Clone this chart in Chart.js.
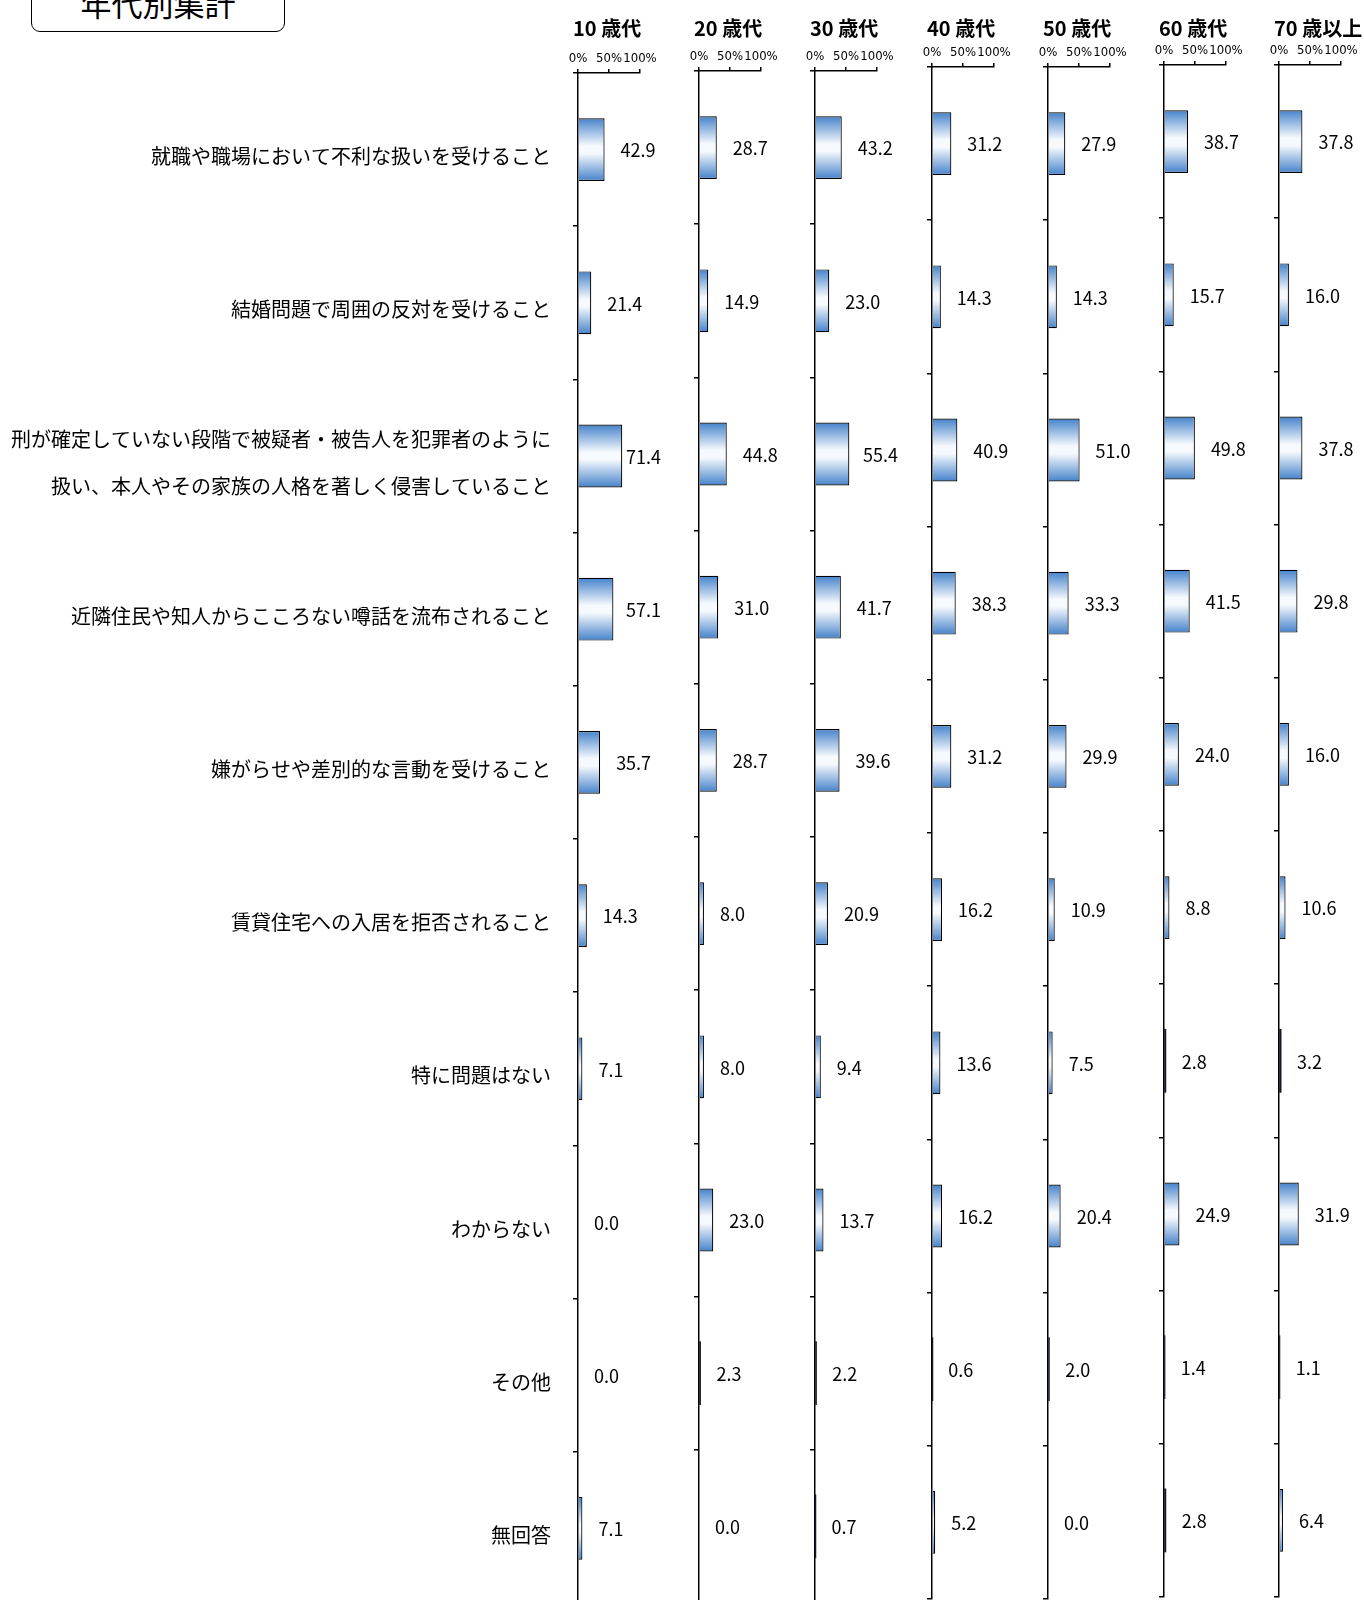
<!DOCTYPE html>
<html lang="ja">
<head>
<meta charset="utf-8">
<script src="https://cdn.jsdelivr.net/npm/chart.js@4/dist/chart.umd.min.js"></script>
<style>
html, body { margin:0; padding:0; overflow:hidden; background:#fff; width:1364px; height:1600px; }
.panel { position:absolute; }
#hdr { position:absolute; left:31px; top:-30px; width:254px; height:62px; box-sizing:border-box;
       border:1.5px solid #000; border-radius:9px; }
#hdr span { position:absolute; left:0; right:0; top:16px; text-align:center;
            font:31px/31px "Noto Sans CJK JP", sans-serif; color:#000; }
</style>
</head>
<body>
<div id="hdr"><span>年代別集計</span></div>
<div id="wrap"></div>
<script>
// ---- data ----
const categories = [
  '就職や職場において不利な扱いを受けること',
  '結婚問題で周囲の反対を受けること',
  ['刑が確定していない段階で被疑者・被告人を犯罪者のように', '扱い、本人やその家族の人格を著しく侵害していること'],
  '近隣住民や知人からこころない噂話を流布されること',
  '嫌がらせや差別的な言動を受けること',
  '賃貸住宅への入居を拒否されること',
  '特に問題はない',
  'わからない',
  'その他',
  '無回答'
];
const ageGroups = ['10 歳代', '20 歳代', '30 歳代', '40 歳代', '50 歳代', '60 歳代', '70 歳以上'];
const age10 = [42.9, 21.4, 71.4, 57.1, 35.7, 14.3, 7.1, 0.0, 0.0, 7.1];
const age20 = [28.7, 14.9, 44.8, 31.0, 28.7, 8.0, 8.0, 23.0, 2.3, 0.0];
const age30 = [43.2, 23.0, 55.4, 41.7, 39.6, 20.9, 9.4, 13.7, 2.2, 0.7];
const age40 = [31.2, 14.3, 40.9, 38.3, 31.2, 16.2, 13.6, 16.2, 0.6, 5.2];
const age50 = [27.9, 14.3, 51.0, 33.3, 29.9, 10.9, 7.5, 20.4, 2.0, 0.0];
const age60 = [38.7, 15.7, 49.8, 41.5, 24.0, 8.8, 2.8, 24.9, 1.4, 2.8];
const age70 = [37.8, 16.0, 37.8, 29.8, 16.0, 10.6, 3.2, 31.9, 1.1, 6.4];
const xMin = 0, xMax = 100, xStep = 50;

// ---- layout (not data) ----
const seriesList = [age10, age20, age30, age40, age50, age60, age70];
const axisX = [578, 699, 815, 932, 1048, 1164, 1279];
const panelShift = [8, 6, 6, 2, 2, 0, 0];
const PLOT_W = 62, PAD_R = 40, PAD_T = 40, XAXIS_H = 25, PAD_B = 50;
const CANVAS_H = 1647;
const BAR_PCT = 0.41;
const THIN = 4; // bars narrower than this (in %) are drawn as dark lines

Chart.defaults.font.family = '"Noto Sans CJK JP", sans-serif';
Chart.defaults.color = '#000';

const valueLabels = {
  id: 'valueLabels',
  afterDatasetsDraw(chart, args, opts) {
    const {ctx, chartArea} = chart;
    const meta = chart.getDatasetMeta(0);
    const data = chart.data.datasets[0].data;
    ctx.save();
    ctx.font = '18px "Noto Sans CJK JP", sans-serif';
    ctx.fillStyle = '#000';
    ctx.textAlign = 'left';
    ctx.textBaseline = 'middle';
    meta.data.forEach((bar, i) => {
      const x = Math.min(bar.x + opts.gap, chartArea.left + opts.maxOffset);
      ctx.fillText(Number(data[i]).toFixed(1), x, bar.y + 1);
    });
    ctx.restore();
  }
};
const panelTitle = {
  id: 'panelTitle',
  afterDraw(chart, args, opts) {
    if (!opts.text) return;
    const ctx = chart.ctx;
    ctx.save();
    ctx.font = 'bold 20px "Noto Sans CJK JP", sans-serif';
    ctx.fillStyle = '#000';
    ctx.textAlign = 'left';
    ctx.textBaseline = 'middle';
    ctx.fillText(opts.text, chart.chartArea.left - 5, opts.y);
    ctx.restore();
  }
};
Chart.register(valueLabels, panelTitle);

function isThin(context) {
  return context.raw !== undefined && Math.abs(context.raw) < THIN;
}
function barGradient(context) {
  if (isThin(context)) return '#14182a';
  const chart = context.chart;
  const ys = chart.scales && chart.scales.y;
  if (!ys || context.dataIndex === undefined || !ys.height) return '#9dbde3';
  const cy = ys.getPixelForValue(context.dataIndex);
  const h = ys.height / categories.length * BAR_PCT;
  const g = chart.ctx.createLinearGradient(0, cy - h / 2, 0, cy + h / 2);
  g.addColorStop(0, '#4583cb');
  g.addColorStop(0.44, '#f6f9fd');
  g.addColorStop(0.56, '#f6f9fd');
  g.addColorStop(1, '#4583cb');
  return g;
}

const wrap = document.getElementById('wrap');
seriesList.forEach((values, i) => {
  const left = i === 0 ? 0 : axisX[i] - 30;
  const yWidth = axisX[i] - left;
  const cv = document.createElement('canvas');
  cv.className = 'panel';
  cv.width = yWidth + PLOT_W + PAD_R;
  cv.height = CANVAS_H;
  cv.style.left = left + 'px';
  cv.style.top = panelShift[i] + 'px';
  wrap.appendChild(cv);

  new Chart(cv, {
    type: 'bar',
    data: {
      labels: categories,
      datasets: [{
        data: values,
        backgroundColor: barGradient,
        borderColor: '#000',
        borderWidth: c => isThin(c) ? 0 : 1.2,
        inflateAmount: c => (isThin(c) && c.raw > 0) ? 0.5 : 0,
        categoryPercentage: 1,
        barPercentage: BAR_PCT
      }]
    },
    options: {
      indexAxis: 'y',
      responsive: false,
      animation: false,
      events: [],
      layout: { padding: { left: 0, right: PAD_R, top: PAD_T, bottom: PAD_B } },
      plugins: {
        legend: { display: false },
        tooltip: { enabled: false },
        valueLabels: { gap: 16, maxOffset: 48 },
        panelTitle: { text: ageGroups[i], y: 28 - panelShift[i] }
      },
      scales: {
        x: {
          type: 'linear', position: 'top', min: xMin, max: xMax,
          afterFit: s => { s.height = XAXIS_H; },
          ticks: {
            stepSize: xStep, autoSkip: false, maxRotation: 0, padding: 3,
            callback: v => v + '%',
            font: { family: "'DejaVu Sans Condensed', 'DejaVu Sans', sans-serif", size: 13 },
            color: '#000'
          },
          grid: { drawOnChartArea: false, tickLength: 4, color: '#000', lineWidth: 1.5 },
          border: { display: true, color: '#000', width: 1.5 }
        },
        y: {
          type: 'category',
          afterFit: s => { s.width = yWidth; },
          ticks: {
            display: i === 0, autoSkip: false, padding: 22, labelOffset: 7,
            font: { family: '"Noto Sans CJK JP", sans-serif', size: 20, lineHeight: 2.35 },
            color: '#000'
          },
          grid: { drawOnChartArea: false, offset: true, tickLength: 5, color: '#000', lineWidth: 1.5 },
          border: { display: true, color: '#000', width: 1.5 }
        }
      }
    }
  });
});
</script>
</body>
</html>
